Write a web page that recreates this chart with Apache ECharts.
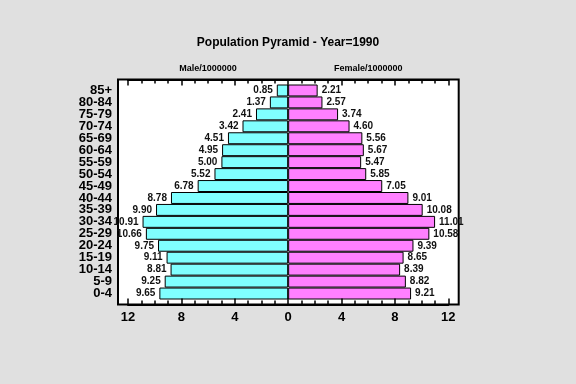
<!DOCTYPE html>
<html>
<head>
<meta charset="utf-8">
<script src="https://cdn.jsdelivr.net/npm/echarts@6/dist/echarts.min.js"></script>
<style>
html,body{margin:0;padding:0;background:#e0e0e0;}
#c{width:576px;height:384px;}
</style>
</head>
<body>
<div id="c"></div>
<script>
// Data (top of pyramid first)
const ageGroups = ["85+","80-84","75-79","70-74","65-69","60-64","55-59","50-54","45-49","40-44","35-39","30-34","25-29","20-24","15-19","10-14","5-9","0-4"];
const male = [0.85,1.37,2.41,3.42,4.51,4.95,5.00,5.52,6.78,8.78,9.90,10.91,10.66,9.75,9.11,8.81,9.25,9.65];
const female = [2.21,2.57,3.74,4.60,5.56,5.67,5.47,5.85,7.05,9.01,10.08,11.01,10.58,9.39,8.65,8.39,8.82,9.21];
const xTickStep = 4;
const xRange = 12;
const headerText = {"-6":"Male/1000000","6":"Female/1000000"};
const titleText = "Population Pyramid - Year=1990";

const FONT = "Liberation Sans";
const chart = echarts.init(document.getElementById('c'));

const L = 128, R = 127.7;          // grid edges at ±12
const FL = 118, FR = 117.3;        // frame edges
const tickAx = (pos, labels) => ({
  type: 'value', gridIndex: 1, position: pos, min: -xRange, max: xRange, interval: xTickStep, z: 10,
  axisLine: {show: true, onZero: false, lineStyle: {color: '#000', width: 2}},
  axisTick: {show: true, inside: true, length: 6, lineStyle: {color: '#000', width: 1.5}},
  minorTick: {show: true, splitNumber: 4, length: 4, lineStyle: {color: '#000', width: 1.5}},
  axisLabel: labels ? {show: true, formatter: v => String(Math.abs(v)), color: '#000',
    fontFamily: FONT, fontWeight: 'bold', fontSize: 13, margin: 6} : {show: false},
  splitLine: {show: false}
});

chart.setOption({
  backgroundColor: '#e0e0e0',
  animation: false,
  title: {
    text: titleText, left: 'center', top: 32,
    textStyle: {fontFamily: FONT, fontWeight: 'bold', fontSize: 12, color: '#000'}
  },
  grid: [
    {left: L, right: R, top: 84.5, bottom: 84.5},
    {left: L, right: R, top: 79.5, bottom: 79.5},
    {left: FL, right: FR, top: 79.5, bottom: 79.5, show: true, backgroundColor: '#fff', borderColor: '#000', borderWidth: 2}
  ],
  xAxis: [
    {type: 'value', gridIndex: 0, min: -xRange, max: xRange, show: false},
    tickAx('bottom', true),
    tickAx('top', false),
    {type: 'value', gridIndex: 1, position: 'top', min: -xRange, max: xRange, interval: 6, z: 10,
      axisLine: {show: false, onZero: false}, axisTick: {show: false}, splitLine: {show: false},
      axisLabel: {show: true, formatter: v => headerText[String(v)] || '', color: '#000',
        fontFamily: FONT, fontWeight: 'bold', fontSize: 9, margin: 6}},
    {type: 'value', gridIndex: 2, show: false, min: 0, max: 1}
  ],
  yAxis: [
    {type: 'category', gridIndex: 0, data: ageGroups, inverse: true, offset: L - FL,
      axisLine: {show: false}, axisTick: {show: false}, splitLine: {show: false},
      axisLabel: {interval: 0, color: '#000', fontFamily: FONT, fontWeight: 'bold', fontSize: 13, margin: 6}},
    {type: 'value', gridIndex: 1, show: false, min: 0, max: 1},
    {type: 'value', gridIndex: 2, show: false, min: 0, max: 1}
  ],
  series: [
    {
      name: 'Male', type: 'bar', xAxisIndex: 0, yAxisIndex: 0, stack: 'p',
      data: male.map(v => -v), barCategoryGap: '0%',
      itemStyle: {color: '#80ffff', borderColor: '#000', borderWidth: 1},
      label: {show: true, position: 'left', distance: 4, formatter: p => Math.abs(p.value).toFixed(2),
        color: '#111', fontFamily: FONT, fontWeight: 'bold', fontSize: 10}
    },
    {
      name: 'Female', type: 'bar', xAxisIndex: 0, yAxisIndex: 0, stack: 'p',
      data: female, barCategoryGap: '0%',
      itemStyle: {color: '#ff80ff', borderColor: '#000', borderWidth: 1},
      label: {show: true, position: 'right', distance: 4, formatter: p => p.value.toFixed(2),
        color: '#111', fontFamily: FONT, fontWeight: 'bold', fontSize: 10}
    }
  ]
});
</script>
</body>
</html>
